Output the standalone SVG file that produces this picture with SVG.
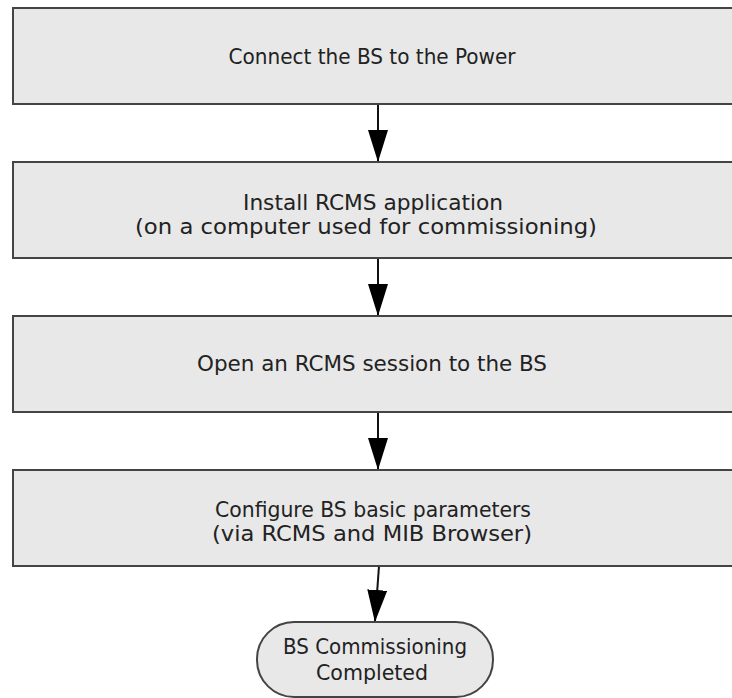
<svg xmlns="http://www.w3.org/2000/svg" width="732" height="698" viewBox="0 0 732 698">
<style>
.box{fill:#e8e8e8;stroke:#444;stroke-width:2}
.t{font-family:"DejaVu Sans Condensed","DejaVu Sans",sans-serif;font-stretch:condensed;font-size:21px;fill:#222;text-anchor:middle}
.c{stroke:#111;stroke-width:2;fill:none;marker-end:url(#ah)}
</style>
<defs>
<marker id="ah" markerWidth="32" markerHeight="20" refX="31" refY="10" orient="auto" markerUnits="userSpaceOnUse" viewBox="0 0 32 20">
<path d="M0,0 L32,10 L0,20 Z" fill="#000"/>
</marker>
</defs>
<rect width="732" height="698" fill="#fff"/>
<g id="connectors">
<path class="c" d="M378,104 L378,161"/>
<path class="c" d="M378,258 L378,315"/>
<path class="c" d="M378,412 L378,469"/>
<path class="c" d="M379,566 L375,621"/>
</g>
<g id="n1"><rect class="box" x="13" y="8" width="730" height="96"/><text class="t" x="372" y="64" textLength="287" lengthAdjust="spacingAndGlyphs">Connect the BS to the Power</text></g>
<g id="n2"><rect class="box" x="13" y="162" width="730" height="96"/><text class="t" x="373" y="210" textLength="260" lengthAdjust="spacingAndGlyphs">Install RCMS application</text><text class="t" x="366" y="234" textLength="462" lengthAdjust="spacingAndGlyphs">(on a computer used for commissioning)</text></g>
<g id="n3"><rect class="box" x="13" y="316" width="730" height="96"/><text class="t" x="372" y="371" textLength="350" lengthAdjust="spacingAndGlyphs">Open an RCMS session to the BS</text></g>
<g id="n4"><rect class="box" x="13" y="470" width="730" height="96"/><text class="t" x="373" y="517" textLength="316" lengthAdjust="spacingAndGlyphs">Configure BS basic parameters</text><text class="t" x="372" y="541" textLength="320" lengthAdjust="spacingAndGlyphs">(via RCMS and MIB Browser)</text></g>
<g id="n5"><rect class="box" x="257" y="622" width="236" height="75" rx="37" ry="37"/><text class="t" x="375" y="654" textLength="184" lengthAdjust="spacingAndGlyphs">BS Commissioning</text><text class="t" x="372" y="680" textLength="112" lengthAdjust="spacingAndGlyphs">Completed</text></g>
</svg>
